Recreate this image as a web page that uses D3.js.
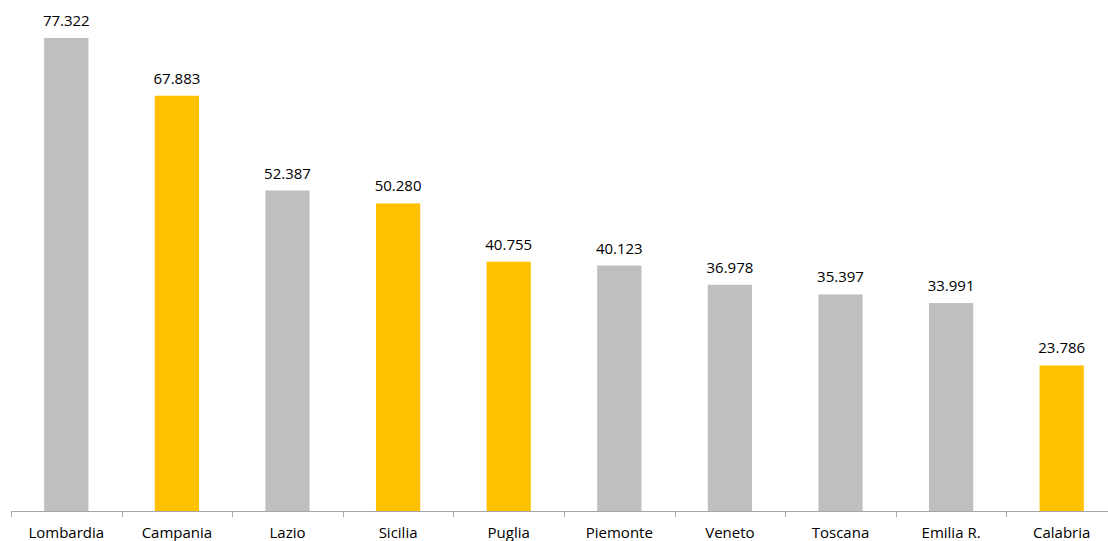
<!DOCTYPE html>
<html><head><meta charset="utf-8">
<script src="https://cdn.jsdelivr.net/npm/d3@7"></script>
<style>body{margin:0;background:#fff}svg{display:block}</style>
</head><body>
<svg id="c" width="1108" height="541"></svg>
<script>
const categories = ["Lombardia","Campania","Lazio","Sicilia","Puglia","Piemonte","Veneto","Toscana","Emilia R.","Calabria"];
const values = [77.322,67.883,52.387,50.280,40.755,40.123,36.978,35.397,33.991,23.786];
const labels = ["77.322","67.883","52.387","50.280","40.755","40.123","36.978","35.397","33.991","23.786"];
const highlighted = [false,true,false,true,true,false,false,false,false,true];

const svg = d3.select("#c");
const x = d3.scaleBand().domain(categories).range([11, 1117]).paddingInner(0.6).paddingOuter(0.3);
const xb = d3.scaleBand().domain(categories).range([11, 1117]);
const y = d3.scaleLinear().domain([0, 80]).range([511, 21.6]);
const font = "'Open Sans', 'Noto Sans', sans-serif";

svg.selectAll("rect.bar").data(values).join("rect")
  .attr("x", (d,i)=>x(categories[i]))
  .attr("width", x.bandwidth())
  .attr("y", d=>y(d))
  .attr("height", d=>y(0)-y(d))
  .attr("fill", (d,i)=>highlighted[i] ? "#FFC000" : "#BFBFBF");

svg.selectAll("text.val").data(values).join("text")
  .attr("x", (d,i)=>xb(categories[i]) + xb.bandwidth()/2)
  .attr("y", d=>y(d) - 12)
  .attr("text-anchor","middle")
  .attr("font-family", font).attr("font-size", 15).attr("fill","#000")
  .text((d,i)=>labels[i]);

// axis
const g = svg.append("g");
g.append("line").attr("x1",11).attr("x2",1117).attr("y1",511.5).attr("y2",511.5)
  .attr("stroke","#a6a6a6").attr("stroke-width",1);
const edges = categories.map(c=>xb(c)).concat([xb.range()[1]]);
g.selectAll("line.tick").data(edges).join("line")
  .attr("x1", d=>Math.round(d)+0.5).attr("x2", d=>Math.round(d)+0.5)
  .attr("y1", 511).attr("y2", 517)
  .attr("stroke","#a6a6a6");
g.selectAll("text.cat").data(categories).join("text")
  .attr("x", d=>xb(d)+xb.bandwidth()/2)
  .attr("y", 538)
  .attr("text-anchor","middle")
  .attr("font-family", font).attr("font-size", 15).attr("fill","#000")
  .text(d=>d);
</script>
</body></html>
